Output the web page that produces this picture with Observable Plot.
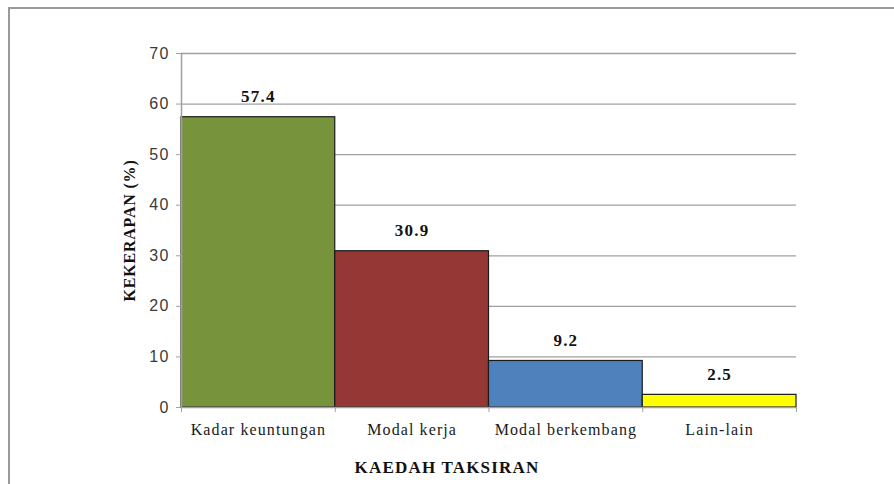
<!DOCTYPE html>
<html>
<head>
<meta charset="utf-8">
<script src="https://cdn.jsdelivr.net/npm/d3@7"></script>
<script src="https://cdn.jsdelivr.net/npm/@observablehq/plot@0.6"></script>
<style>
  html, body { margin: 0; padding: 0; background: #fff; }
  #wrap { position: relative; width: 894px; height: 484px; overflow: hidden; }
  #frame { position: absolute; left: 8px; top: 7px; width: 2000px; height: 2000px;
           border-left: 2px solid #9a9a9a; border-top: 2px solid #9a9a9a; pointer-events: none; }
  #chart { position: absolute; left: 0; top: 0; }
  g[aria-label="y-axis tick label"] text { letter-spacing: 1.2px; }
</style>
</head>
<body>
<div id="wrap"><div id="chart"></div><div id="frame"></div></div>
<script>
const categories = ["Kadar keuntungan", "Modal kerja", "Modal berkembang", "Lain-lain"];
const values = [57.4, 30.9, 9.2, 2.5];
const colors = ["#77933C", "#953735", "#4F81BD", "#FFFF00"];
const yTicks = [0, 10, 20, 30, 40, 50, 60, 70];
const xTitle = "KAEDAH TAKSIRAN";
const yTitle = "KEKERAPAN (%)";

const data = categories.map((c, i) => ({ cat: c, idx: i, value: values[i] }));
const edges = d3.range(categories.length + 1);

const serif = "'Liberation Serif', 'Times New Roman', serif";
const sans = "'Liberation Sans', Arial, sans-serif";

const chart = Plot.plot({
  width: 894,
  height: 484,
  marginLeft: 181,
  marginRight: 98,
  marginTop: 53,
  marginBottom: 77,
  x: { type: "linear", domain: [0, categories.length], axis: null },
  y: { domain: [0, 70], axis: null },
  color: { domain: categories, range: colors },
  style: { background: "transparent", overflow: "visible" },
  marks: [
    Plot.gridY(yTicks.filter(t => t > 0), { stroke: "#a0a0a0", strokeOpacity: 1, strokeWidth: 1.3 }),
    Plot.rectY(data, { x1: "idx", x2: d => d.idx + 1, y: "value", fill: "cat", stroke: "#1a1a1a", strokeWidth: 1.2 }),
    Plot.ruleX([0], { stroke: "#a0a0a0", strokeWidth: 1.5 }),
    Plot.ruleY([0], { stroke: "#a0a0a0", strokeWidth: 1.5 }),
    Plot.axisY({ ticks: yTicks, tickSize: 5, tickPadding: 7, label: null, stroke: "#a0a0a0", fontSize: 16, fontFamily: sans, fill: "#3a3a3a" }),
    Plot.axisX({ ticks: edges, tickSize: 5, tickFormat: () => "", label: null, stroke: "#a0a0a0" }),
    Plot.text(data, { x: d => d.idx + 0.5, y: 0, text: "cat", dy: 27, lineAnchor: "bottom",
      fontSize: 16, fontFamily: serif, fill: "#1a1a1a" }),
    Plot.text(data, { x: d => d.idx + 0.5, y: "value", text: d => d.value.toFixed(1), dy: -15, lineAnchor: "bottom",
      fontSize: 17, fontWeight: "bold", fontFamily: serif, fill: "#111" }),
    Plot.text([xTitle], { frameAnchor: "bottom", text: d => d, dx: -42, dy: 65, lineAnchor: "bottom", textAnchor: "middle",
      fontSize: 17, fontWeight: "bold", fontFamily: serif, fill: "#111" }),
    Plot.text([yTitle], { frameAnchor: "left", text: d => d, dx: -52, rotate: -90, lineAnchor: "middle", textAnchor: "middle",
      fontSize: 16, fontWeight: "bold", fontFamily: serif, fill: "#111" })
  ]
});
// letter spacing per text mark (category labels, value labels, x title, y title)
const spacing = ["1.1px", "1.2px", "1.2px", "0.8px"];
chart.querySelectorAll('g[aria-label="text"]').forEach((g, i) => {
  if (spacing[i]) g.style.letterSpacing = spacing[i];
});
document.getElementById("chart").appendChild(chart);
</script>
</body>
</html>
